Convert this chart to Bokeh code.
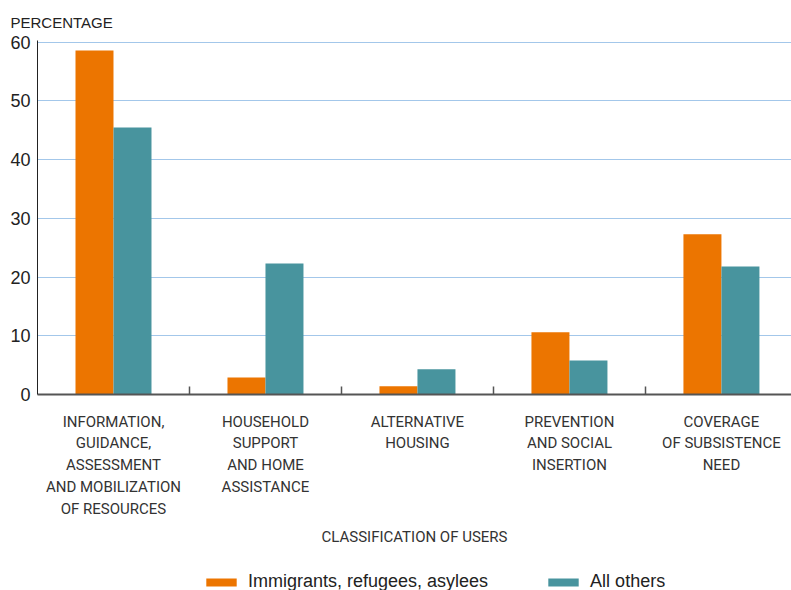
from bokeh.plotting import figure
from bokeh.layouts import column
from bokeh.models import Range1d, FixedTicker, Legend, LegendItem, ColumnDataSource
from bokeh.transform import dodge
from bokeh.embed import file_html
from bokeh.resources import INLINE

categories = [
    "INFORMATION,\nGUIDANCE,\nASSESSMENT\nAND MOBILIZATION\nOF RESOURCES",
    "HOUSEHOLD\nSUPPORT\nAND HOME\nASSISTANCE",
    "ALTERNATIVE\nHOUSING",
    "PREVENTION\nAND SOCIAL\nINSERTION",
    "COVERAGE\nOF SUBSISTENCE\nNEED",
]
immigrants = [58.6, 2.9, 1.4, 10.6, 27.3]
others = [45.5, 22.3, 4.3, 5.8, 21.8]
y_ticks = [0, 10, 20, 30, 40, 50, 60]
series_names = ["Immigrants, refugees, asylees", "All others"]

ORANGE = "#EC7500"
TEAL = "#48949E"
CAT_FONT = "Roboto"
REG_FONT = "Liberation Sans"

centers = [i + 0.5 for i in range(len(categories))]
src = ColumnDataSource(dict(x=centers, imm=immigrants, oth=others))

p = figure(width=791, height=555, output_backend="svg", toolbar_location=None,
           x_range=Range1d(0, 4.961), y_range=Range1d(0, 60.3),
           min_border_left=37, min_border_right=0, min_border_top=40,
           min_border_bottom=161)
p.outline_line_color = None
p.background_fill_color = "white"

r1 = p.vbar(x=dodge("x", -0.125, range=p.x_range), top="imm", width=0.25, source=src,
            fill_color=ORANGE, line_color=None)
r2 = p.vbar(x=dodge("x", 0.125, range=p.x_range), top="oth", width=0.25, source=src,
            fill_color=TEAL, line_color=None)

# title
p.title.text = "PERCENTAGE"
p.title.align = "left"
p.title.offset = -27
p.title.standoff = 20
p.title.text_font = REG_FONT
p.title.text_font_size = "15px"
p.title.text_font_style = "normal"
p.title.text_color = "#222222"

# grids
p.xgrid.grid_line_color = None
p.ygrid.grid_line_color = "#A3C7EA"
p.ygrid.grid_line_width = 1
p.ygrid.ticker = FixedTicker(ticks=y_ticks)

# y axis
ya = p.yaxis[0]
ya.ticker = FixedTicker(ticks=y_ticks)
ya.major_tick_in = 0
ya.major_tick_out = 0
ya.minor_tick_line_color = None
ya.major_tick_line_color = None
ya.axis_line_color = "#222222"
ya.major_label_text_font = REG_FONT
ya.major_label_text_font_size = "18px"
ya.major_label_text_color = "#222222"
ya.major_label_standoff = 7

# x axis
xa = p.xaxis[0]
xa.ticker = FixedTicker(ticks=centers, minor_ticks=[1, 2, 3, 4])
xa.major_label_overrides = {c: lab for c, lab in zip(centers, categories)}
xa.major_tick_line_color = None
xa.minor_tick_in = 8
xa.minor_tick_out = 0
xa.minor_tick_line_color = "#555555"
xa.minor_tick_line_width = 1.5
xa.axis_line_color = "#555555"
xa.axis_line_width = 2
xa.major_label_text_font = CAT_FONT
xa.major_label_text_font_size = "15px"
xa.major_label_text_color = "#333333"
xa.major_label_text_line_height = 1.22
xa.major_label_standoff = 12
xa.axis_label = "CLASSIFICATION OF USERS"
xa.axis_label_text_font = CAT_FONT
xa.axis_label_text_font_size = "15px"
xa.axis_label_text_font_style = "normal"
xa.axis_label_text_color = "#333333"
xa.axis_label_standoff = 7

# legend strip (separate figure so the main layout stays fixed)
lf = figure(width=791, height=35, output_backend="svg", toolbar_location=None,
            x_range=Range1d(0, 1), y_range=Range1d(0, 1),
            x_axis_location=None, y_axis_location=None,
            min_border_left=0, min_border_right=0, min_border_top=0,
            min_border_bottom=0)
lf.outline_line_color = None
lf.xgrid.visible = False
lf.ygrid.visible = False
# swatch-only renderers, kept outside the visible range of the strip
swatch = ColumnDataSource(dict(x=[5], top=[1]))
l1 = lf.vbar(x="x", top="top", width=0.1, source=swatch, fill_color=ORANGE, line_color=None)
l2 = lf.vbar(x="x", top="top", width=0.1, source=swatch, fill_color=TEAL, line_color=None)

legend = Legend(items=[LegendItem(label=series_names[0], renderers=[l1]),
                       LegendItem(label=series_names[1], renderers=[l2])],
                orientation="horizontal", location=(165, -2),
                glyph_width=38, glyph_height=10, label_standoff=8, spacing=56,
                padding=0, margin=0, border_line_color=None,
                background_fill_alpha=0, label_text_font=REG_FONT,
                label_text_font_size="18px", label_text_color="#222222")
lf.add_layout(legend, "center")

layout = column(p, lf, spacing=0)
open("out.html", "w").write(file_html(layout, INLINE))
